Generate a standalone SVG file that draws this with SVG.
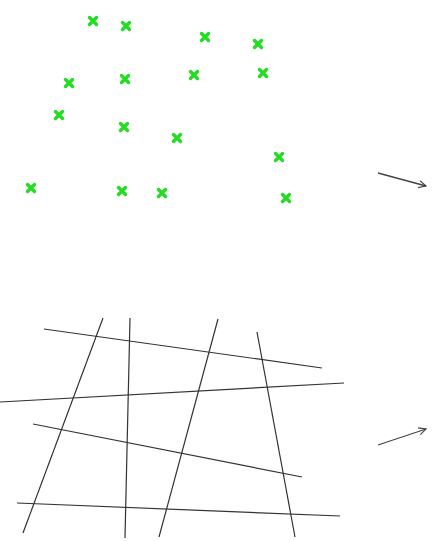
<svg xmlns="http://www.w3.org/2000/svg" width="432" height="541" viewBox="0 0 432 541">
<style>
.x{stroke:#22dd22;stroke-width:3.4;stroke-linecap:round;fill:none}
.ln{stroke:#333;stroke-width:1.2;fill:none}
.ar{stroke:#444;stroke-width:1.3;fill:none}
</style>
<defs>
<marker id="ah" viewBox="0 0 10 10" refX="9" refY="5" markerWidth="9" markerHeight="9" orient="auto" markerUnits="userSpaceOnUse">
<path d="M1,1 L9,5 L1,9" fill="none" stroke="#444" stroke-width="1.3"/>
</marker>
<path id="cr" d="M-3.5,-3.5 L3.5,3.5 M-3.5,3.5 L3.5,-3.5"/>
</defs>
<rect width="432" height="541" fill="#fff"/>
<g id="points" class="x">
<use href="#cr" x="93" y="21"/>
<use href="#cr" x="126" y="26"/>
<use href="#cr" x="205" y="37"/>
<use href="#cr" x="258" y="44"/>
<use href="#cr" x="69" y="83"/>
<use href="#cr" x="125" y="79"/>
<use href="#cr" x="194" y="75"/>
<use href="#cr" x="263" y="73"/>
<use href="#cr" x="59" y="115"/>
<use href="#cr" x="124" y="127"/>
<use href="#cr" x="177" y="138"/>
<use href="#cr" x="279" y="157"/>
<use href="#cr" x="31" y="188"/>
<use href="#cr" x="122" y="191"/>
<use href="#cr" x="162" y="193"/>
<use href="#cr" x="286" y="198"/>
</g>
<g id="grid" class="ln">
<line x1="44" y1="329" x2="322" y2="368"/>
<line x1="0" y1="402" x2="344" y2="383"/>
<line x1="33" y1="424" x2="302" y2="477"/>
<line x1="17" y1="503" x2="340" y2="516"/>
<line x1="103" y1="318" x2="23" y2="533"/>
<line x1="130" y1="318" x2="125" y2="538"/>
<line x1="218" y1="319" x2="159" y2="537"/>
<line x1="257" y1="332" x2="295" y2="537"/>
</g>
<g id="connectors" class="ar">
<line x1="378" y1="173" x2="426" y2="186" marker-end="url(#ah)"/>
<line x1="378" y1="445" x2="426" y2="429" marker-end="url(#ah)"/>
</g>
</svg>
